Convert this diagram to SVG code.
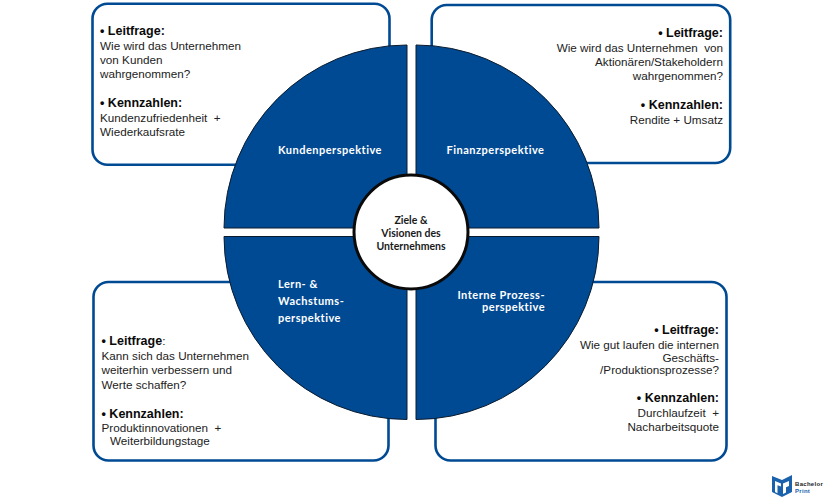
<svg xmlns="http://www.w3.org/2000/svg" width="825" height="500" viewBox="0 0 825 500">
<style>
.box{fill:#fff;stroke:#004a93;stroke-width:2.6}
.wedge{fill:#004a93;stroke:#0b1b2e;stroke-width:1}
.t{font-family:"Liberation Sans",Arial,sans-serif;font-size:11.7px;fill:#222;white-space:pre}
.b{font-weight:bold;fill:#0a0a0a;font-size:12.5px}
.e{text-anchor:end}
.w{font-family:Lato,"Liberation Sans",sans-serif;font-size:11px;font-weight:bold;fill:#fff;letter-spacing:.5px}
.c{font-family:Lato,"Liberation Sans",sans-serif;font-size:10.5px;font-weight:bold;fill:#1a1a1a;text-anchor:middle}
.l{font-family:"Liberation Sans",Arial,sans-serif;font-size:6px;font-weight:bold;letter-spacing:.3px}
</style>
<rect width="825" height="500" fill="#fff"/>
<g id="box-kunden">
<rect class="box" x="92.500" y="3.700" width="297" height="161" rx="15"/>
<text class="t" x="100" y="35"><tspan class="b">• Leitfrage:</tspan></text>
<text class="t" x="100" y="49.500">Wie wird das Unternehmen</text>
<text class="t" x="100" y="64">von Kunden</text>
<text class="t" x="100" y="78">wahrgenommen?</text>
<text class="t" x="100" y="107"><tspan class="b">• Kennzahlen:</tspan></text>
<text class="t" x="100" y="121.500">Kundenzufriedenheit  +</text>
<text class="t" x="100" y="136">Wiederkaufsrate</text>
</g>
<g id="box-finanz">
<rect class="box" x="431.700" y="5" width="298.500" height="158" rx="15"/>
<text class="t b e" x="723" y="37">• Leitfrage:</text>
<text class="t e" x="723" y="51.500">Wie wird das Unternehmen  von</text>
<text class="t e" x="723" y="66">Aktionären/Stakeholdern</text>
<text class="t e" x="723" y="80">wahrgenommen?</text>
<text class="t b e" x="723" y="109">• Kennzahlen:</text>
<text class="t e" x="723" y="124">Rendite + Umsatz</text>
</g>
<g id="box-lern">
<rect class="box" x="93.500" y="282" width="295" height="178.500" rx="15"/>
<text class="t" x="101.500" y="345"><tspan class="b">• Leitfrage</tspan>:</text>
<text class="t" x="101.500" y="360">Kann sich das Unternehmen</text>
<text class="t" x="101.500" y="374">weiterhin verbessern und</text>
<text class="t" x="101.500" y="388.500">Werte schaffen?</text>
<text class="t" x="101.500" y="417.500"><tspan class="b">• Kennzahlen:</tspan></text>
<text class="t" x="101.500" y="431.500">Produktinnovationen  +</text>
<text class="t" x="110" y="444.500">Weiterbildungstage</text>
</g>
<g id="box-prozess">
<rect class="box" x="435.500" y="282" width="291" height="178.500" rx="15"/>
<text class="t b e" x="719" y="334">• Leitfrage:</text>
<text class="t e" x="719" y="349">Wie gut laufen die internen</text>
<text class="t e" x="719" y="361.500">Geschäfts-</text>
<text class="t e" x="719" y="374">/Produktionsprozesse?</text>
<text class="t b e" x="719" y="402">• Kennzahlen:</text>
<text class="t e" x="719" y="417">Durchlaufzeit  +</text>
<text class="t e" x="719" y="431">Nacharbeitsquote</text>
</g>
<g id="kundenperspektive">
<path class="wedge" d="M407 228V45A183 183 0 0 0 224 228Z"/>
<text class="w" x="278" y="154">Kundenperspektive</text>
</g>
<g id="finanzperspektive">
<path class="wedge" d="M416 228V45A183 183 0 0 1 599 228Z"/>
<text class="w" x="446.500" y="154">Finanzperspektive</text>
</g>
<g id="lernperspektive">
<path class="wedge" d="M407 236.500V419.500A183 183 0 0 1 224 236.500Z"/>
<text class="w" x="278" y="288">Lern- &amp;</text>
<text class="w" x="278" y="305">Wachstums-</text>
<text class="w" x="278" y="322">perspektive</text>
</g>
<g id="prozessperspektive">
<path class="wedge" d="M416 236.500V419.500A183 183 0 0 0 599 236.500Z"/>
<text class="w" x="545" y="299" text-anchor="end">Interne Prozess-</text>
<text class="w" x="545" y="311" text-anchor="end">perspektive</text>
</g>
<g id="ziele">
<circle cx="411" cy="232" r="57" fill="#fff" stroke="#0a0a0a" stroke-width="3"/>
<text class="c" x="411" y="224">Ziele &amp;</text>
<text class="c" x="411" y="236.500">Visionen des</text>
<text class="c" x="411" y="249.500">Unternehmens</text>
</g>
<g id="logo">
<path d="M772 476l10 4 10-5v17l-10 5-10-5z" fill="#1b62ad"/>
<path d="M775 481l6 2.500v3l-3.500-1.300v8l-2.500-1.200zM783 483.500l6-2.500v5l-3 1.200v5.300l-3 1.500z" fill="#fff"/>
<text class="l" x="795" y="485.500" fill="#222">Bachelor</text>
<text class="l" x="795" y="492.500" fill="#1b62ad">Print</text>
</g>
</svg>
